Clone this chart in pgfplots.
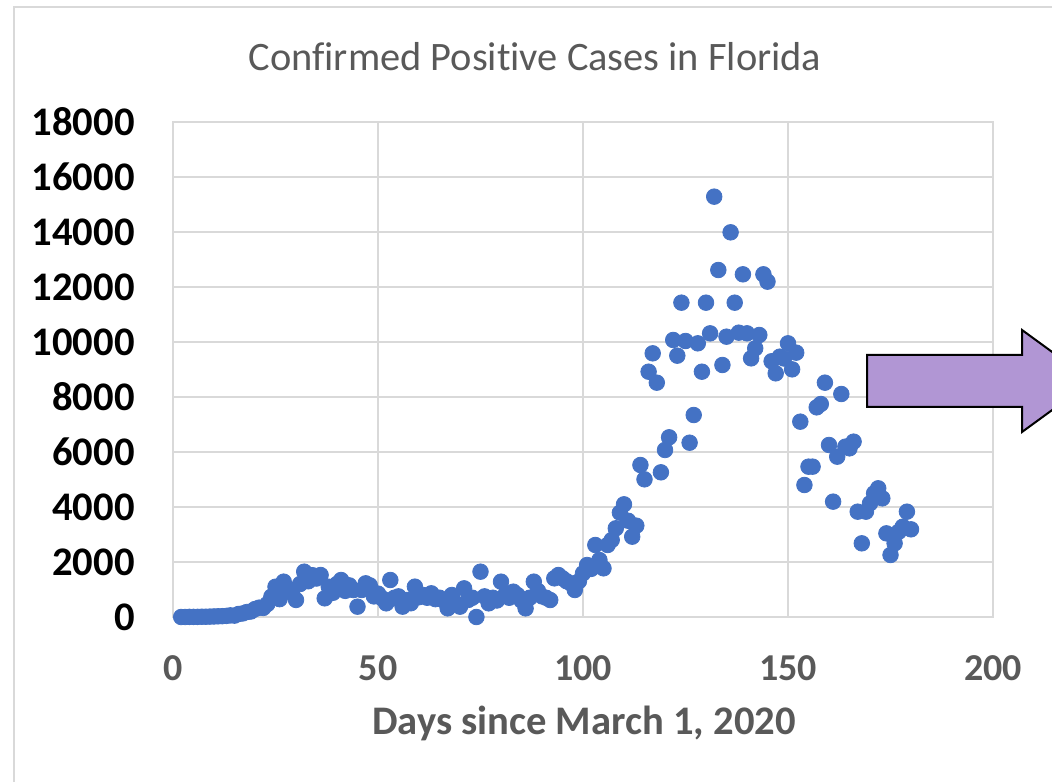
\documentclass[border=0pt]{standalone}
\usepackage{pgfplots}
\pgfplotsset{compat=1.18}
\usepackage{pgfplotstable}
\usepackage{fontspec}
\setmainfont{Carlito}[Ligatures=NoCommon]
\definecolor{dotblue}{RGB}{68,114,196}
\definecolor{gridgray}{RGB}{217,217,217}
\definecolor{txtgray}{RGB}{89,89,89}
\definecolor{lav}{RGB}{177,150,212}
\pgfplotstableread{
day cases
2 0
3 1
4 5
5 5
6 5
7 10
8 10
9 15
10 20
11 25
12 30
13 40
14 60
15 50
16 110
17 130
18 180
19 200
20 290
21 340
22 330
23 470
24 740
25 1100
26 650
27 1285
28 1000
29 880
30 620
31 1200
32 1648
33 1300
34 1520
35 1400
36 1527
37 679
38 1100
39 880
40 1200
41 1345
42 950
43 1150
44 980
45 376
46 982
47 1224
48 1150
49 750
50 850
51 680
52 497
53 1345
54 700
55 750
56 376
57 618
58 500
59 1103
60 720
61 800
62 700
63 861
64 650
65 700
66 600
67 315
68 800
69 500
70 376
71 1042
72 620
73 700
74 0
75 1648
76 750
77 497
78 700
79 600
80 1285
81 800
82 700
83 921
84 800
85 600
86 315
87 700
88 1285
89 950
90 750
91 700
92 618
93 1406
94 1527
95 1406
96 1300
97 1224
98 982
99 1300
100 1588
101 1891
102 1750
103 2618
104 2073
105 1770
106 2618
107 2800
108 3225
109 3794
110 4097
111 3500
112 2921
113 3321
114 5527
115 5006
116 8920
117 9588
118 8521
119 5261
120 6073
121 6534
122 10073
123 9503
124 11430
125 10036
126 6338
127 7345
128 9952
129 8920
130 11430
131 10315
132 15285
133 12618
134 9164
135 10194
136 13988
137 11430
138 10339
139 12461
140 10315
141 9406
142 9770
143 10255
144 12461
145 12194
146 9300
147 8861
148 9467
149 9400
150 9952
151 9006
152 9612
153 7103
154 4800
155 5467
156 5467
157 7624
158 7745
159 8521
160 6255
161 4194
162 5830
163 8109
164 6194
165 6133
166 6376
167 3830
168 2679
169 3830
170 4133
171 4497
172 4680
173 4315
174 3042
175 2255
176 2679
177 3100
178 3285
179 3830
180 3188
}\flcases
\begin{document}
\begin{tikzpicture}
\useasboundingbox (0,0) rectangle (526pt,390.5pt);
\clip (0,0) rectangle (526pt,390.5pt);
\fill[white] (0,0) rectangle (526pt,390.5pt);
\draw[gridgray, line width=1pt] (7pt,-5pt) -- (7pt,387pt) -- (540pt,387pt);
\begin{axis}[
  at={(86.5pt,82pt)}, anchor=south west,
  width=410pt, height=247.5pt, scale only axis,
  xmin=0, xmax=200, ymin=0, ymax=18000,
  xtick={0,50,100,150,200},
  ytick={0,2000,4000,6000,8000,10000,12000,14000,16000,18000},
  scaled y ticks=false,
  /pgf/number format/.cd, 1000 sep={}, assume math mode=true, /pgfplots/.cd,
  grid=major,
  grid style={draw=gridgray, line width=1pt},
  axis line style={draw=gridgray, line width=1pt},
  major tick length=0pt,
  xticklabel style={font=\fontsize{19}{22}\selectfont\bfseries, text=txtgray, anchor=center, inner sep=0pt, yshift=-25.5pt},
  yticklabel style={font=\fontsize{20.3}{23}\selectfont\bfseries, text=black, anchor=east, inner sep=0pt, xshift=-19pt},
  clip=false,
]
\addplot[only marks, mark=*, mark size=3.9pt, color=dotblue, mark options={draw=dotblue, fill=dotblue}] table[x=day, y=cases] {\flcases};
\end{axis}
\node[text=txtgray, font=\fontsize{20.2}{24}\selectfont] at (267.5pt,362pt) {Confirmed Positive Cases in Florida};
\node[text=txtgray, font=\fontsize{20.3}{24}\selectfont\bfseries] at (292pt,29pt) {Days since March 1, 2020};
\draw[black, line width=1pt, fill=lav] (433.5pt,187pt) -- (433.5pt,213pt) -- (511pt,213pt) -- (511pt,225.5pt) -- (546pt,200pt) -- (511pt,174.5pt) -- (511pt,187pt) -- cycle;
\end{tikzpicture}
\end{document}
